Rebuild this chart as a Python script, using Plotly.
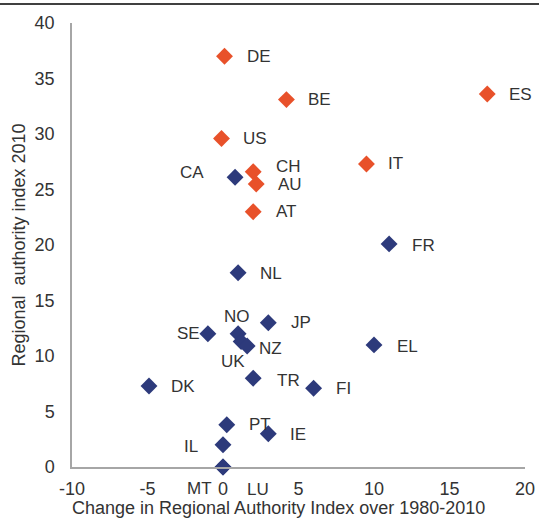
import plotly.graph_objects as go

# Orange group (federal / high authority)
orange_codes = ["DE", "BE", "US", "CH", "AU", "AT", "ES", "IT"]
orange_change = [0.1, 4.2, -0.1, 2.0, 2.2, 2.0, 17.5, 9.5]
orange_rai = [37.0, 33.1, 29.6, 26.6, 25.5, 23.0, 33.6, 27.3]

# Navy group
navy_codes = ["CA", "FR", "NL", "JP", "NO", "SE", "UK", "NZ", "EL", "TR",
              "DK", "FI", "PT", "IE", "IL", "MT", "LU"]
navy_change = [0.8, 11.0, 1.0, 3.0, 1.0, -1.0, 1.2, 1.6, 10.0, 2.0,
               -4.9, 6.0, 0.25, 3.0, 0.0, 0.0, 0.0]
navy_rai = [26.1, 20.1, 17.5, 13.0, 12.0, 12.0, 11.3, 10.9, 11.0, 8.0,
            7.3, 7.1, 3.8, 3.0, 2.0, 0.0, 0.0]

x_ticks = [-10, -5, 0, 5, 10, 15, 20]
x_ticklabels = ["-10", "-5", "0", "5", "10", "15", "20"]
y_ticks = [0, 5, 10, 15, 20, 25, 30, 35, 40]
y_ticklabels = ["0", "5", "10", "15", "20", "25", "30", "35", "40"]

x_title = "Change in Regional Authority Index over 1980-2010"
y_title = "Regional\u00a0 authority index 2010"

ORANGE = "#E8512A"
NAVY = "#2D3A7B"
TEXT = "#333333"
FONT = "Liberation Sans, Arial, sans-serif"

# label pixel offsets (dx right, dy down) -- styling only
label_offsets = {
    "DE": (34, 0), "BE": (33, 0), "US": (34, 0), "CA": (-43, -5),
    "CH": (35, -5), "AU": (34, 1), "AT": (33, 0), "ES": (33, 0),
    "IT": (29, 0), "FR": (34, 2), "NL": (33, 1), "JP": (33, 0),
    "NO": (-1, -17), "SE": (-19, 0), "NZ": (23, 2), "UK": (-8, 20),
    "EL": (33, 2),
    "TR": (35, 2), "DK": (34, 1), "FI": (30, 0), "PT": (33, 0),
    "IE": (30, 1), "IL": (-32, 2), "MT": (-24, 21), "LU": (35, 22),
}

fig = go.Figure()
fig.add_trace(go.Scatter(
    x=navy_change, y=navy_rai, mode="markers",
    marker=dict(symbol="diamond", size=13, color=NAVY),
    cliponaxis=False, showlegend=False, hoverinfo="skip",
))
fig.add_trace(go.Scatter(
    x=orange_change, y=orange_rai, mode="markers",
    marker=dict(symbol="diamond", size=13, color=ORANGE),
    cliponaxis=False, showlegend=False, hoverinfo="skip",
))

annotations = []
for codes, xs, ys in [(orange_codes, orange_change, orange_rai),
                      (navy_codes, navy_change, navy_rai)]:
    for c, xv, yv in zip(codes, xs, ys):
        dx, dy = label_offsets[c]
        annotations.append(dict(
            x=xv, y=yv, xref="x", yref="y", text=c, showarrow=False,
            xshift=dx, yshift=-dy, font=dict(size=17, color=TEXT, family=FONT),
            xanchor="center", yanchor="middle",
        ))

# x-axis title (slightly left of plot centre, as in the original)
annotations.append(dict(
    x=(278 - 72) / 453, y=(467 - 519) / 444, xref="paper", yref="paper",
    text=x_title, showarrow=False, xanchor="center", yanchor="bottom",
    borderpad=0, font=dict(size=18, color=TEXT, family=FONT),
))

fig.update_layout(
    width=539, height=519,
    margin=dict(l=72, r=14, t=23, b=52, autoexpand=False),
    paper_bgcolor="white", plot_bgcolor="white",
    font=dict(family=FONT, size=18, color=TEXT),
    annotations=annotations,
    shapes=[dict(type="line", xref="paper", yref="paper",
                 x0=-72/453, x1=(453+14)/453, y0=(444+19)/444, y1=(444+19)/444,
                 line=dict(color="black", width=1.5))],
)
fig.update_xaxes(
    range=[-10, 20], tickvals=x_ticks, ticktext=x_ticklabels,
    showgrid=False, zeroline=False, automargin=False,
    showline=True, linecolor="#A6A6A6", linewidth=1.5, ticks="",
    ticklabelstandoff=5, tickfont=dict(size=18, color=TEXT),
)
fig.update_yaxes(
    range=[0, 40], tickvals=y_ticks, ticktext=y_ticklabels,
    showgrid=False, zeroline=False, automargin=False,
    showline=True, linecolor="#A6A6A6", linewidth=1.5, ticks="",
    ticklabelstandoff=12, tickfont=dict(size=18, color=TEXT),
    title=dict(text=y_title, font=dict(size=18, color=TEXT), standoff=4),
)

fig.write_html("out.html", post_script="document.body.style.margin='0';",
               config={"displayModeBar": False})
